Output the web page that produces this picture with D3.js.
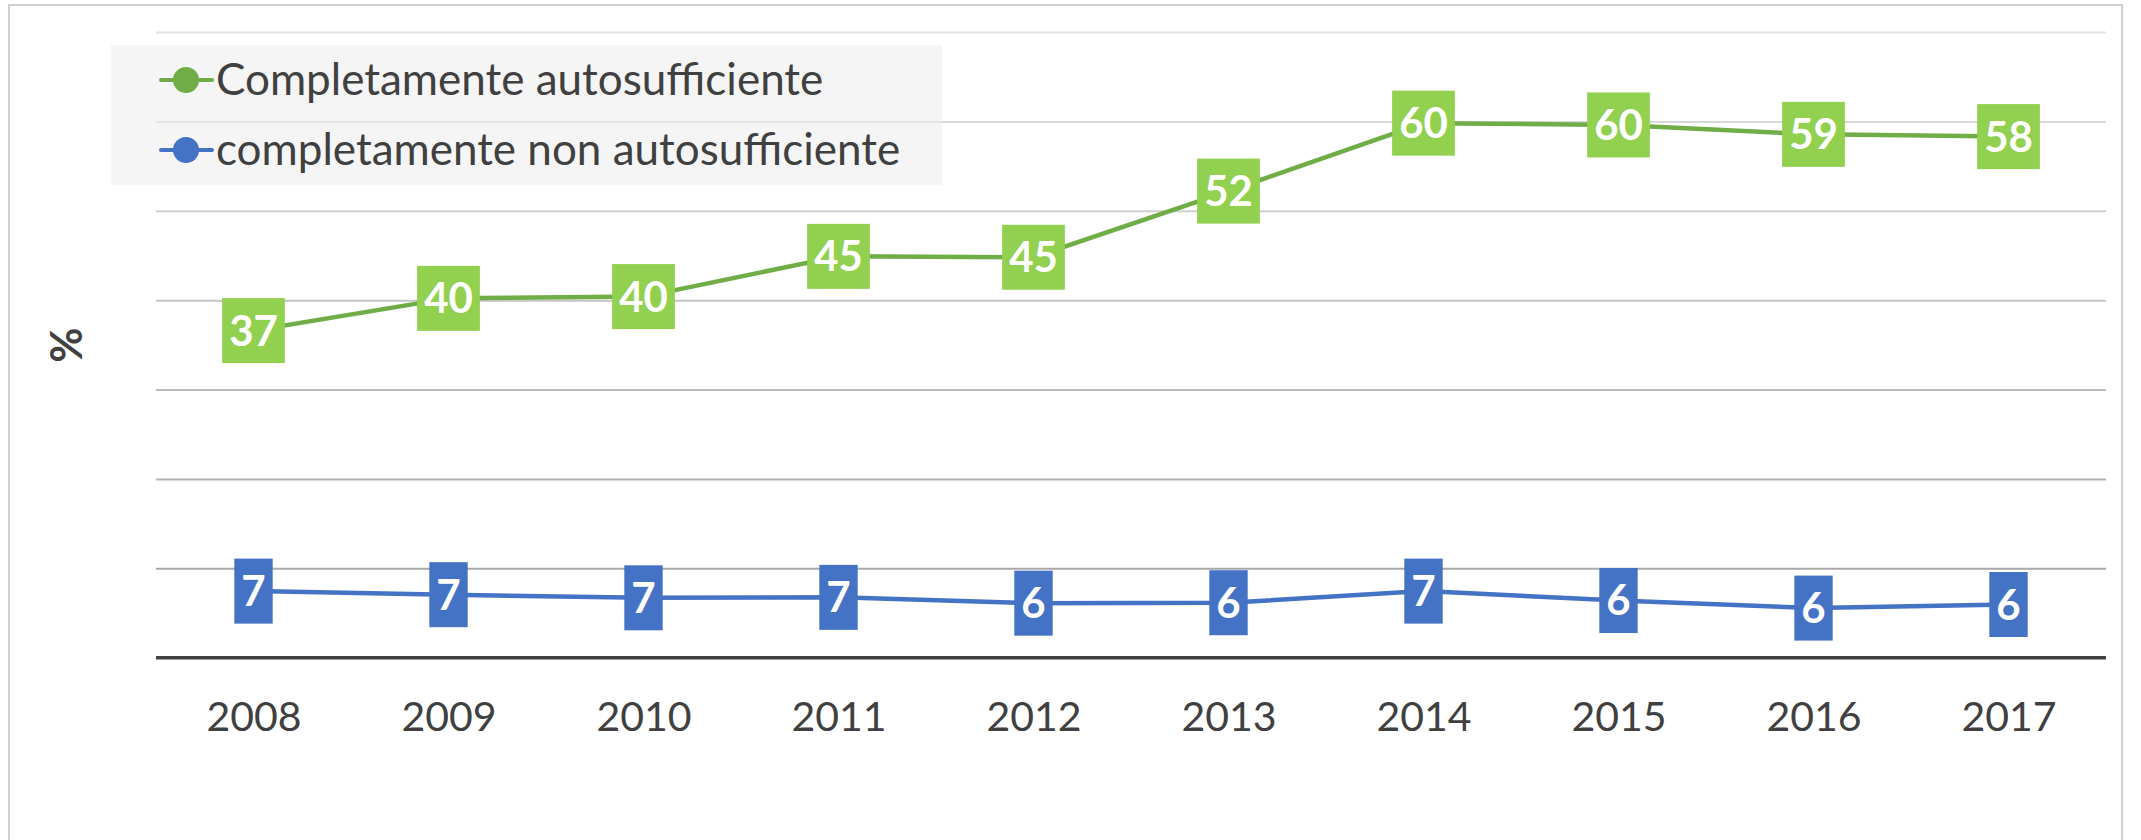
<!DOCTYPE html>
<html>
<head>
<meta charset="utf-8">
<script src="https://cdn.jsdelivr.net/npm/d3@7"></script>
<style>
  body { margin: 0; background: #fff; }
  svg { display: block; font-family: Lato, "Open Sans", sans-serif; }
</style>
</head>
<body>
<svg id="chart" width="2141" height="840"></svg>
<script>
const years = ["2008", "2009", "2010", "2011", "2012", "2013", "2014", "2015", "2016", "2017"];
const autoValues = [36.6, 40.2, 40.4, 44.9, 44.8, 52.2, 59.8, 59.6, 58.55, 58.3];
const nonAutoValues = [7.45, 7.05, 6.7, 6.75, 6.1, 6.15, 7.45, 6.4, 5.55, 5.95];
const seriesNames = ["Completamente autosufficiente", "completamente non autosufficiente"];
const yTicks = [10, 20, 30, 40, 50, 60, 70];

const series = [
  { name: seriesNames[0], values: autoValues, line: "#70ad47", box: "#92d050" },
  { name: seriesNames[1], values: nonAutoValues, line: "#4472c4", box: "#4472c4" },
];

const svg = d3.select("#chart");
const width = +svg.attr("width");
const height = +svg.attr("height");

const plot = { left: 156, right: 2106, top: 32, bottom: 657.7 };
const textColor = "#404040";

// outer frame of the chart area
svg.append("rect")
  .attr("x", 9).attr("y", 5)
  .attr("width", 2113).attr("height", height + 20)
  .attr("fill", "#fff")
  .attr("stroke", "#d0d0d0")
  .attr("stroke-width", 2);

const xScale = d3.scalePoint()
  .domain(years)
  .range([plot.left, plot.right])
  .padding(0.5);

const yScale = d3.scaleLinear()
  .domain([0, 70])
  .range([plot.bottom, plot.top]);

// gridlines get lighter towards the top
const gridColor = d3.scaleLinear().domain([10, 70]).range(["#a8a8a8", "#e2e2e2"]);

const gridG = svg.append("g")
  .attr("transform", `translate(${plot.left},0)`)
  .call(d3.axisLeft(yScale).tickValues(yTicks).tickSize(-(plot.right - plot.left)).tickFormat(""));
gridG.select(".domain").remove();
gridG.selectAll(".tick line")
  .attr("stroke", (d) => gridColor(d))
  .attr("stroke-width", 2);

// legend box (semi transparent, gridline shows through)
const legend = svg.append("g");
legend.append("rect")
  .attr("x", 111).attr("y", 45)
  .attr("width", 831).attr("height", 140)
  .attr("fill", "#ececec")
  .attr("opacity", 0.55);

series.forEach((s, i) => {
  const cy = 80 + i * 70;
  legend.append("line")
    .attr("x1", 161).attr("x2", 212)
    .attr("y1", cy).attr("y2", cy)
    .attr("stroke", s.line)
    .attr("stroke-width", 4)
    .attr("stroke-linecap", "round");
  legend.append("circle")
    .attr("cx", 186).attr("cy", cy)
    .attr("r", 13)
    .attr("fill", s.line);
  legend.append("text")
    .attr("x", 216).attr("y", cy + 15)
    .attr("font-size", 44)
    .attr("fill", textColor)
    .text(s.name);
});

// x axis
const xAxisG = svg.append("g")
  .attr("transform", `translate(0,${plot.bottom})`)
  .call(d3.axisBottom(xScale).tickSize(0).tickPadding(44));
xAxisG.select(".domain").remove();
xAxisG.selectAll("text")
  .attr("font-size", 41)
  .attr("font-family", "Lato, sans-serif")
  .attr("fill", textColor);

svg.append("line")
  .attr("x1", plot.left).attr("x2", plot.right)
  .attr("y1", yScale(0)).attr("y2", yScale(0))
  .attr("stroke", textColor)
  .attr("stroke-width", 3.5);

// y axis title
svg.append("text")
  .attr("transform", `translate(82,345) rotate(-90)`)
  .attr("text-anchor", "middle")
  .attr("font-size", 43)
  .attr("font-weight", "bold")
  .attr("fill", textColor)
  .text("%");

const lineGenerator = d3.line()
  .x((d, i) => xScale(years[i]))
  .y((d) => yScale(d));

series.forEach((s) => {
  const g = svg.append("g");

  g.append("path")
    .attr("d", lineGenerator(s.values))
    .attr("fill", "none")
    .attr("stroke", s.line)
    .attr("stroke-width", 4.5)
    .attr("stroke-linejoin", "round");

  g.selectAll("circle")
    .data(s.values)
    .enter()
    .append("circle")
    .attr("cx", (d, i) => xScale(years[i]))
    .attr("cy", (d) => yScale(d))
    .attr("r", 13)
    .attr("fill", s.line);

  // data labels: white bold number on a filled box
  const labels = g.selectAll(".label")
    .data(s.values)
    .enter()
    .append("g")
    .attr("class", "label")
    .attr("transform", (d, i) => `translate(${xScale(years[i])},${yScale(d)})`);

  labels.append("rect").attr("fill", s.box);

  labels.append("text")
    .attr("text-anchor", "middle")
    .attr("y", 15)
    .attr("font-size", 42)
    .attr("font-weight", "bold")
    .attr("fill", "#fff")
    .text((d) => Math.round(d));

  labels.each(function () {
    const t = d3.select(this).select("text").node().getComputedTextLength();
    const w = t + 14;
    d3.select(this).select("rect")
      .attr("x", -w / 2).attr("y", -32.5)
      .attr("width", w).attr("height", 65);
  });
});
</script>
</body>
</html>
